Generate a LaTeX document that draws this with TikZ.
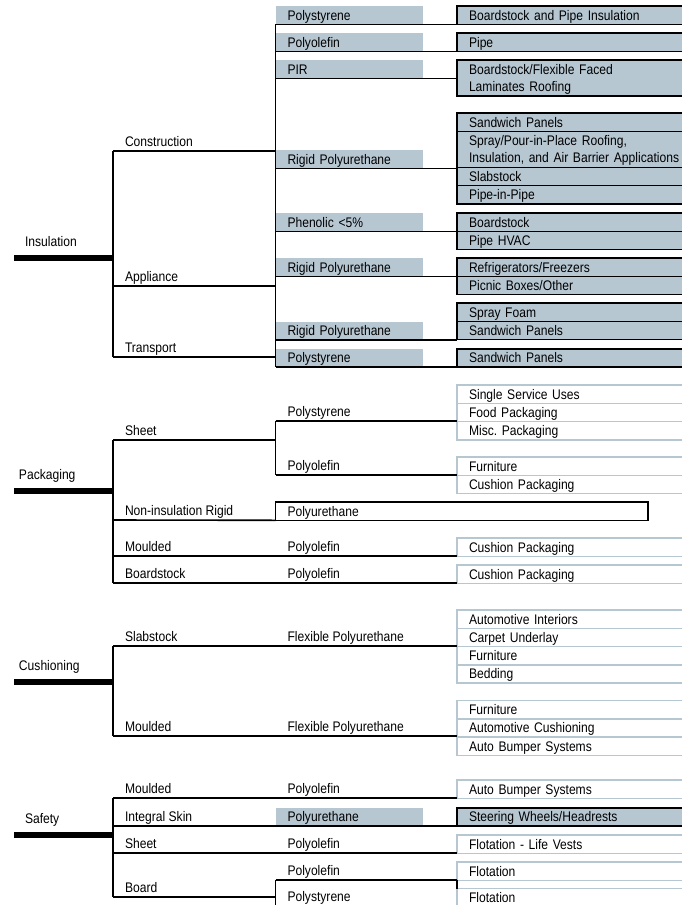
\documentclass[tikz,border=0pt]{standalone}
\usepackage{fontspec}
\setmainfont[FakeStretch=0.87]{Liberation Sans}
\usetikzlibrary{positioning}

\definecolor{azulgris}{RGB}{183,199,210}

\tikzset{
  texto/.style={font=\fontsize{13.9}{16.5}\selectfont, outer sep=0pt},
  cat/.style={texto, anchor=south west, inner xsep=11pt, inner ysep=11.5pt, text depth=0pt},
  rama/.style={texto, anchor=south west, inner xsep=12pt, inner ysep=4.5pt, text depth=0pt},
  barra/.style={line width=6.5pt},
  linea/.style={line width=1.6pt},
  medio/.style={texto, anchor=north west, fill=azulgris, minimum width=147pt,
    minimum height=18.3pt, inner xsep=12pt, inner ysep=0pt, text width=123pt,
    align=left, text height=11.1pt, text depth=1.4pt},
  uso/.style={texto, anchor=north west, draw=black, line width=1.6pt, fill=azulgris,
    minimum height=18.3pt, inner xsep=12pt, inner ysep=0pt, text width=220pt,
    align=left, text height=11.1pt, text depth=1.4pt},
  usoclaro/.style={uso, draw=azulgris, fill=white},
  doble/.style={minimum height=36pt, text depth=17.9pt},
}

\begin{document}
\begin{tikzpicture}[x=1pt, y=-1pt]

    \useasboundingbox (0,0) rectangle (682,905);
    \clip (0,0) rectangle (682,905);

    % Insulation
    \node[cat] (ins) at (14,258) {Insulation};
    \node[rama] (cons) at (113,151) {Construction};
    \node[rama] (apli) at (113,286) {Appliance};
    \node[rama] (trans) at (113,357) {Transport};

    \node[medio] (m1) at (275.5,6) {Polystyrene};
    \node[medio] (m2) at (275.5,33) {Polyolefin};
    \node[medio] (m3) at (275.5,60) {PIR};
    \node[medio] (m4) at (275.5,150) {Rigid Polyurethane};
    \node[medio] (m5) at (275.5,213) {Phenolic <5\%};
    \node[medio] (m6) at (275.5,258) {Rigid Polyurethane};
    \node[medio] (m7) at (275.5,321.7) {Rigid Polyurethane};
    \node[medio] (m8) at (275.5,348.7) {Polystyrene};

    \node[uso] (r1) at (457,6) {Boardstock and Pipe Insulation};
    \node[uso] (r2) at (457,33) {Pipe};
    \node[uso, doble] (r3) at (457,60) {Boardstock/Flexible Faced\\Laminates Roofing};
    \node[uso] (r4) at (457,113) {Sandwich Panels};
    \node[uso, doble, below=0pt of r4] (r5) {Spray/Pour-in-Place Roofing,\\Insulation, and Air Barrier Applications};
    \node[uso, below=0pt of r5] (r6) {Slabstock};
    \node[uso, below=0pt of r6] (r7) {Pipe-in-Pipe};
    \node[uso] (r8) at (457,213) {Boardstock};
    \node[uso, below=0pt of r8] (r9) {Pipe HVAC};
    \node[uso] (r10) at (457,258) {Refrigerators/Freezers};
    \node[uso, below=0pt of r10] (r11) {Picnic Boxes/Other};
    \node[uso] (r12) at (457,303) {Spray Foam};
    \node[uso, below=0pt of r12] (r13) {Sandwich Panels};
    \node[uso] (r14) at (457,348.7) {Sandwich Panels};

    \draw[barra] (ins.south west) -- (ins.south west -| cons.south west);
    \draw[linea] (cons.south west) -- (trans.south west);
    \draw[linea] (cons.south west) -- (cons.south west -| m1.south west);
    \draw[linea] (apli.south west) -- (apli.south west -| m1.south west);
    \draw[linea] (trans.south west) -- (trans.south west -| m1.south west);
    \draw[linea] (m1.south west) -- (m8.south west);
    \draw[linea] (m1.south west) -- (m1.south west -| r1.west);
    \draw[linea] (m2.south west) -- (m2.south west -| r2.west);
    \draw[linea] (m3.south west) -- (m3.south west -| r3.west);
    \draw[linea] (m4.south west) -- (m4.south west -| r6.west);
    \draw[linea] (m5.south west) -- (m5.south west -| r9.west);
    \draw[linea] (m6.south west) -- (m6.south west -| r11.west);
    \draw[linea] (m7.south west) -- (m7.south west -| r13.west);
    \draw[linea] (m8.south west) -- (m8.south west -| r14.west);

    % Packaging
    \node[cat, inner xsep=5pt] (emb) at (14,491) {Packaging};
    \node[rama] (lam) at (113,440) {Sheet};
    \node[rama] (nora) at (113,520) {Non-insulation Rigid};
    \node[rama] (mol) at (113,556) {Moulded};
    \node[rama] (plac) at (113,583) {Boardstock};

    \node[rama] (lam-ps) at (275.5,421) {Polystyrene};
    \node[rama] (lam-po) at (275.5,475) {Polyolefin};
    \node[uso, fill=white, text width=348.5pt] (nora-pu) at (275.5,502) {Polyurethane};
    \node[rama] (mol-po) at (275.5,556) {Polyolefin};
    \node[rama] (plac-po) at (275.5,583) {Polyolefin};

    \node[usoclaro] (e1) at (457,385) {Single Service Uses};
    \node[usoclaro, below=0pt of e1] (e2) {Food Packaging};
    \node[usoclaro, below=0pt of e2] (e3) {Misc.\ Packaging};
    \node[usoclaro] (e4) at (457,457) {Furniture};
    \node[usoclaro, below=0pt of e4] (e5) {Cushion Packaging};
    \node[usoclaro] (e6) at (457,538) {Cushion Packaging};
    \node[usoclaro] (e7) at (457,565) {Cushion Packaging};

    \draw[barra] (emb.south west) -- (emb.south west -| lam.south west);
    \draw[linea] (lam.south west) -- (plac.south west);
    \draw[linea] (lam.south west) -- (lam.south west -| lam-ps.south west);
    \draw[linea] (lam-ps.south west) -- (lam-po.south west);
    \draw[linea] (lam-ps.south west) -- (lam-ps.south west -| e3.west);
    \draw[linea] (lam-po.south west) -- (lam-po.south west -| e5.west);
    \draw[linea] (nora.south west) -- (nora-pu.south west);
    \draw[linea] (mol.south west) -- (mol.south west -| e6.west);
    \draw[linea] (plac.south west) -- (plac.south west -| e7.west);

    % Cushioning
    \node[cat, inner xsep=5pt] (acol) at (14,682) {Cushioning};
    \node[rama] (bloq) at (113,646) {Slabstock};
    \node[rama] (amol) at (113,736) {Moulded};
    \node[rama] (bloq-pu) at (275.5,646) {Flexible Polyurethane};
    \node[rama] (amol-pu) at (275.5,736) {Flexible Polyurethane};

    \node[usoclaro] (a1) at (457,610) {Automotive Interiors};
    \node[usoclaro, below=0pt of a1] (a2) {Carpet Underlay};
    \node[usoclaro, below=0pt of a2] (a3) {Furniture};
    \node[usoclaro, below=0pt of a3] (a4) {Bedding};
    \node[usoclaro] (a5) at (457,700.5) {Furniture};
    \node[usoclaro, below=0pt of a5] (a6) {Automotive Cushioning};
    \node[usoclaro, below=0pt of a6] (a7) {Auto Bumper Systems};

    \draw[barra] (acol.south west) -- (acol.south west -| bloq.south west);
    \draw[linea] (bloq.south west) -- (amol.south west);
    \draw[linea] (bloq.south west) -- (bloq.south west -| a2.west);
    \draw[linea] (amol.south west) -- (amol.south west -| a6.west);

    % Safety
    \node[cat] (seg) at (14,835) {Safety};
    \node[rama] (smol) at (113,798) {Moulded};
    \node[rama] (spiel) at (113,826) {Integral Skin};
    \node[rama] (slam) at (113,853) {Sheet};
    \node[rama] (stab) at (113,897) {Board};

    \node[rama] (smol-po) at (275.5,798) {Polyolefin};
    \node[medio] (spiel-pu) at (275.5,807.7) {Polyurethane};
    \node[rama] (slam-po) at (275.5,853) {Polyolefin};
    \node[rama] (stab-po) at (275.5,880) {Polyolefin};
    \node[rama] (stab-ps) at (275.5,906) {Polystyrene};

    \node[usoclaro] (s1) at (457,780) {Auto Bumper Systems};
    \node[uso] (s2) at (457,807.7) {Steering Wheels/Headrests};
    \node[usoclaro] (s3) at (457,835) {Flotation - Life Vests};
    \node[usoclaro] (s4) at (457,862) {Flotation};
    \node[usoclaro, minimum height=22pt, text height=10pt, text depth=4pt] (s5) at (457,888.5) {Flotation};

    \draw[barra] (seg.south west) -- (seg.south west -| smol.south west);
    \draw[linea] (smol.south west) -- (stab.south west);
    \draw[linea] (smol.south west) -- (smol.south west -| s1.west);
    \draw[linea] (spiel.south west) -- (spiel.south west -| s2.west);
    \draw[linea] (slam.south west) -- (slam.south west -| s3.west);
    \draw[linea] (stab.south west) -- (stab.south west -| stab-po.south west);
    \draw[linea] (stab-po.south west) -- (stab-ps.south west);
    \draw[linea] (stab-po.south west) -- (stab-po.south west -| s4.west);
    \draw[linea] (s4.south west) -- (s5.north west);

\end{tikzpicture}
\end{document}
